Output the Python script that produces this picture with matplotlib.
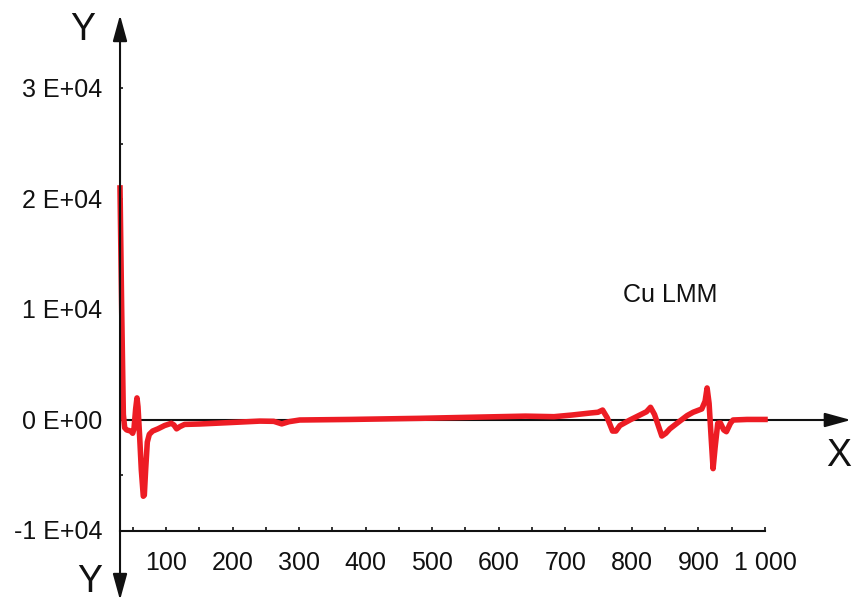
import matplotlib
matplotlib.use("Agg")
import matplotlib.pyplot as plt

# Cu LMM spectrum (derivative)
energy = [31, 33.5, 36, 38, 41, 47, 50, 52, 54.5, 56.5, 58, 60.5, 63, 66, 67.5,
          69.5, 72, 75, 80, 88, 98, 108, 112, 116, 121, 128, 151, 190, 241, 262,
          274, 285, 301, 376, 481, 560, 640, 683, 710, 737, 749, 756, 763, 771,
          776, 782, 797, 812, 822, 828, 834, 845, 851, 857, 872, 883, 892, 905,
          910, 913, 916, 919, 922, 925, 929, 933, 938, 942, 948, 952, 973, 1000]
signal = [21000, 10000, 500, -700, -900, -1000, -1200, -800, 1000, 2000, 1200,
          -1500, -4500, -6900, -6800, -4500, -2000, -1300, -1000, -800, -500,
          -300, -450, -800, -600, -400, -360, -250, -100, -120, -350, -150, 0,
          50, 150, 250, 350, 300, 450, 630, 700, 900, 200, -1000, -1000, -500,
          0, 450, 750, 1150, 500, -1450, -1200, -800, -100, 400, 700, 1000,
          1700, 2900, 1500, -1500, -4400, -2500, -300, -270, -900, -1060, -300,
          0, 50, 50]

x_ticks = [100, 200, 300, 400, 500, 600, 700, 800, 900, 1000]
x_tick_labels = ["100", "200", "300", "400", "500", "600", "700", "800", "900", "1 000"]
x_minor = list(range(50, 1001, 50))
y_ticks = [-10000, 0, 10000, 20000, 30000]
y_tick_labels = ["-1 E+04", "0 E+00", "1 E+04", "2 E+04", "3 E+04"]
y_minor = [-5000, 5000, 15000, 25000]

x_start, x_end = 31, 1000
y_floor = -10000

plt.rcParams['font.family'] = ['Liberation Sans', 'DejaVu Sans']

fig = plt.figure(figsize=(8.54, 6.01), dpi=100)
ax = fig.add_axes([0, 0, 1, 1])
ax.set_xlim(-149.3, 1133.7)
ax.set_ylim(-16380, 38009)
ax.axis('off')

red = '#ed1c24'
black = '#111111'

# the curve
ax.plot(energy, signal, color=red, lw=4, solid_joinstyle='round', zorder=3)

# y axis, arrows at both ends
ax.annotate('', xy=(x_start, 36650), xytext=(x_start, -16290),
            arrowprops=dict(arrowstyle='<|-|>,head_length=0.8,head_width=0.22',
                            mutation_scale=20, color=black, lw=1.5,
                            shrinkA=0, shrinkB=0))
# x axis at zero, arrow on the right
ax.annotate('', xy=(1129, 0), xytext=(x_start, 0),
            arrowprops=dict(arrowstyle='-|>,head_length=0.8,head_width=0.22',
                            mutation_scale=20, color=black, lw=1.5,
                            shrinkA=0, shrinkB=0), zorder=2)
# bottom scale line
ax.plot([x_start, x_end], [y_floor, y_floor], color=black, lw=1.5)
ax.vlines(x_minor, y_floor, y_floor + 300, color=black, lw=1.2)
ax.hlines(y_ticks + y_minor, x_start, x_start + 5, color=black, lw=1.2)

for xv, lab in zip(x_ticks, x_tick_labels):
    ax.text(xv, -12900, lab, ha='center', va='center', fontsize=18, color=black)
for yv, lab in zip(y_ticks, y_tick_labels):
    ax.text(4, yv - 150, lab, ha='right', va='center', fontsize=18, color=black)

ax.text(-25, 35300, 'Y', ha='center', va='center', fontsize=27, color=black)
ax.text(-14, -16250, 'Y', ha='center', va='bottom', fontsize=27, color=black)
ax.text(1111, -3300, 'X', ha='center', va='center', fontsize=27, color=black)
ax.text(857, 11300, 'Cu LMM', ha='center', va='center', fontsize=18, color=black)

fig.savefig('out.png', dpi=100)
